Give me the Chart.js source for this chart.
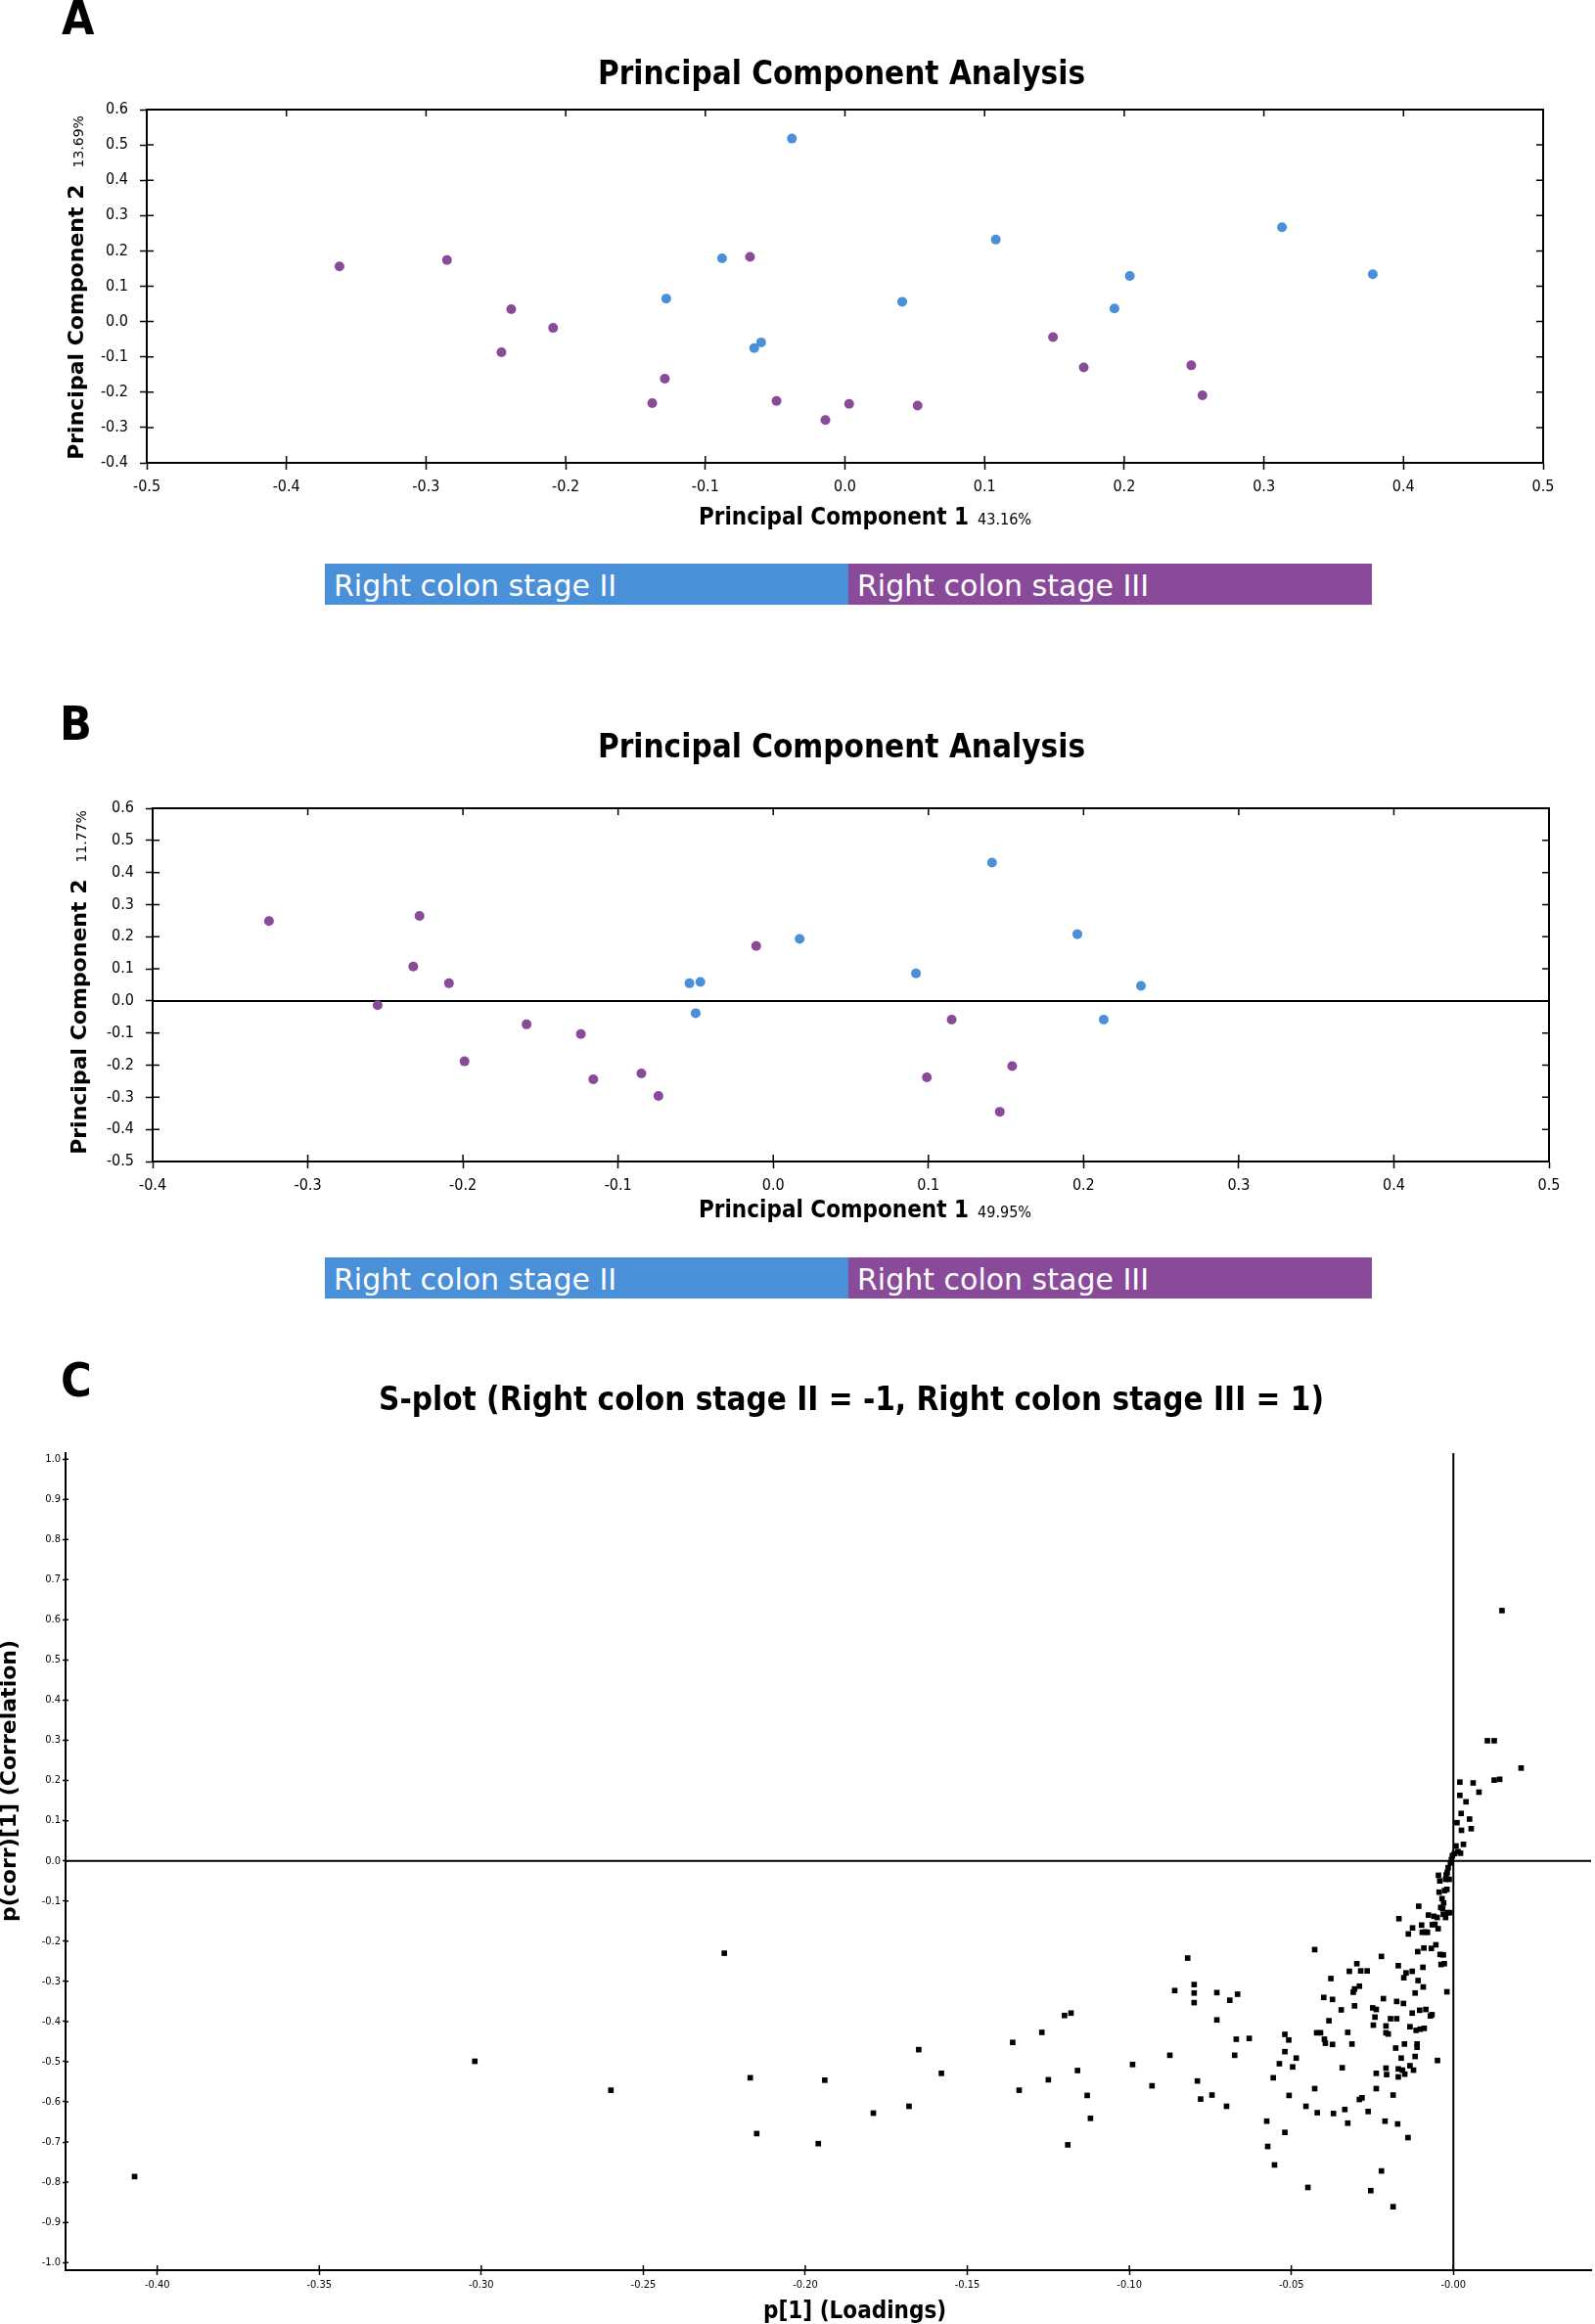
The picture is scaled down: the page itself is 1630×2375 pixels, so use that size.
<!DOCTYPE html>
<html>
<head>
<meta charset="utf-8">
<script src="https://cdn.jsdelivr.net/npm/chart.js@4.4.1/dist/chart.umd.min.js"></script>
<style>
  html, body { margin: 0; padding: 0; background: #fff; }
  #page { position: relative; width: 1630px; height: 2375px; overflow: hidden; background: #fff; }
  canvas { position: absolute; left: 0; }
  .txt { position: absolute; white-space: nowrap; color: #000; line-height: 1; }
  .cb { font-family: "DejaVu Sans Condensed", "DejaVu Sans", sans-serif; font-weight: bold; }
  .letter { font-size: 48px; }
  .title { font-size: 33px; transform: translateX(-50%); }
  .xt { font-size: 24px; line-height: 24px; }
  .xt span { font-weight: normal; font-size: 16px; line-height: 1; margin-left: 9px; }
  .yt { font-family: "DejaVu Sans", sans-serif; font-weight: bold; font-size: 22px; line-height: 22px;
        transform: translate(-50%, -50%) rotate(-90deg); }
  .yt span { font-weight: normal; font-size: 14px; line-height: 1; margin-left: 17px; }
  .bar { position: absolute; height: 42px; width: 535px; color: #fff;
         font-family: "DejaVu Sans", sans-serif; font-size: 30px; line-height: 45px;
         box-sizing: border-box; padding-left: 9px; white-space: nowrap; overflow: hidden; }
</style>
</head>
<body>
<div id="page">
  <canvas id="chartA" width="1630" height="560" style="top:0px"></canvas>
  <canvas id="chartB" width="1630" height="560" style="top:700px"></canvas>
  <canvas id="chartC" width="1630" height="1005" style="top:1370px"></canvas>

  <div class="txt cb letter" style="left:63px; top:-6px">A</div>
  <div class="txt cb title" style="left:860px; top:58px">Principal Component Analysis</div>
  <div class="txt yt" style="left:78px; top:294px">Principal Component 2<span>13.69%</span></div>
  <div class="txt cb xt" style="left:714px; top:516px">Principal Component 1<span>43.16%</span></div>
  <div class="bar" style="left:332px; top:576px; background:#4a90d9">Right colon stage II</div>
  <div class="bar" style="left:867px; top:576px; background:#8a4a9a">Right colon stage III</div>

  <div class="txt cb letter" style="left:61px; top:715px">B</div>
  <div class="txt cb title" style="left:860px; top:746px">Principal Component Analysis</div>
  <div class="txt yt" style="left:81px; top:1004px">Principal Component 2<span>11.77%</span></div>
  <div class="txt cb xt" style="left:714px; top:1224px">Principal Component 1<span>49.95%</span></div>
  <div class="bar" style="left:332px; top:1285px; background:#4a90d9">Right colon stage II</div>
  <div class="bar" style="left:867px; top:1285px; background:#8a4a9a">Right colon stage III</div>

  <div class="txt cb letter" style="left:62px; top:1386px">C</div>
  <div class="txt cb title" style="left:870px; top:1413px">S-plot (Right colon stage II = -1, Right colon stage III = 1)</div>
  <div class="txt yt" style="left:9px; top:1820px">p(corr)[1] (Correlation)</div>
  <div class="txt cb xt" style="left:780px; top:2349px">p[1] (Loadings)</div>
</div>

<script>
// ---- panel A : PCA scores ----
const aStage2X = [-0.038, -0.088, -0.128, -0.060, -0.065, 0.108, 0.041, 0.204, 0.193, 0.313, 0.378];
const aStage2Y = [0.518, 0.179, 0.065, -0.059, -0.075, 0.232, 0.056, 0.129, 0.037, 0.267, 0.134];
const aStage3X = [-0.362, -0.285, -0.239, -0.209, -0.246, -0.129, -0.138, -0.068, -0.049, 0.149, 0.171, 0.248, 0.256, 0.003, -0.014, 0.052];
const aStage3Y = [0.156, 0.174, 0.035, -0.018, -0.087, -0.162, -0.231, 0.183, -0.225, -0.044, -0.130, -0.124, -0.209, -0.233, -0.279, -0.238];
const aXTicks = ['-0.5', '-0.4', '-0.3', '-0.2', '-0.1', '0.0', '0.1', '0.2', '0.3', '0.4', '0.5'];
const aYTicks = ['-0.4', '-0.3', '-0.2', '-0.1', '0.0', '0.1', '0.2', '0.3', '0.4', '0.5', '0.6'];

// ---- panel B : PCA scores ----
const bStage2X = [-0.054, -0.047, -0.050, 0.017, 0.141, 0.196, 0.092, 0.237, 0.213];
const bStage2Y = [0.055, 0.059, -0.038, 0.193, 0.431, 0.208, 0.086, 0.047, -0.058];
const bStage3X = [-0.325, -0.228, -0.232, -0.209, -0.255, -0.199, -0.159, -0.124, -0.116, -0.085, -0.074, -0.011, 0.115, 0.154, 0.099, 0.146];
const bStage3Y = [0.249, 0.265, 0.107, 0.055, -0.013, -0.188, -0.073, -0.103, -0.244, -0.226, -0.296, 0.171, -0.058, -0.203, -0.238, -0.345];
const bXTicks = ['-0.4', '-0.3', '-0.2', '-0.1', '0.0', '0.1', '0.2', '0.3', '0.4', '0.5'];
const bYTicks = ['-0.5', '-0.4', '-0.3', '-0.2', '-0.1', '0.0', '0.1', '0.2', '0.3', '0.4', '0.5', '0.6'];

// ---- panel C : S-plot ----
const sLoadings = [
  -0.407, -0.302, -0.260, -0.225, -0.217, -0.215,
  -0.196, -0.194, -0.179, -0.168, -0.165, -0.158, -0.136, -0.134, -0.127, -0.125,
  -0.120, -0.118, -0.119, -0.116, -0.113, -0.112, -0.099, -0.093, -0.0875, -0.086,
  -0.082, -0.080, -0.080, -0.080, -0.079, -0.078, -0.0745, -0.073, -0.073, -0.070,
  -0.069, -0.0675, -0.067, -0.0666, -0.063, -0.0576, -0.0573, -0.0556, -0.0552, -0.0537,
  -0.052, -0.052, -0.052, -0.0508, -0.0507, -0.0496, -0.0485, -0.0455, -0.0449, -0.0428,
  -0.0428, -0.0422, -0.042, -0.041, -0.040, -0.0398, -0.0395, -0.0384, -0.0378, -0.0373,
  -0.0373, -0.037, -0.0346, -0.0343, -0.0335, -0.0326, -0.0326, -0.0321, -0.0313, -0.0309,
  -0.0305, -0.0305, -0.0298, -0.029, -0.0286, -0.029, -0.0282, -0.0266, -0.0263, -0.0255,
  -0.0249, -0.0242, -0.0247, -0.0238, -0.0238, -0.0238, -0.0222, -0.0222, -0.0216, -0.0211,
  -0.0208, -0.0208, -0.0208, -0.0206, -0.0201, -0.0194, -0.0186, -0.0186, -0.0178, -0.0175,
  -0.0175, -0.0172, -0.017, -0.017, -0.017, -0.0168, -0.0161, -0.0157, -0.0154, -0.0153,
  -0.0151, -0.0150, -0.0146, -0.014, -0.0139, -0.0134, -0.0134, -0.0127, -0.0127, -0.0126,
  -0.0123, -0.0118, -0.0118, -0.0115, -0.0112, -0.0112, -0.011, -0.0109, -0.0107, -0.0104,
  -0.0102, -0.0098, -0.0096, -0.0094, -0.0093, -0.0091, -0.009, -0.0087, -0.0085, -0.008,
  -0.0077, -0.0071, -0.0068, -0.0066, -0.0065, -0.006, -0.0057, -0.0054, -0.005, -0.0049,
  -0.0047, -0.0046, -0.0044, -0.0042, -0.0041, -0.0039, -0.0038, -0.0035, -0.0033, -0.0031,
  -0.0031, -0.003, -0.0028, -0.0027, -0.0024, -0.0024, -0.0022, -0.002, -0.002, -0.0019,
  -0.0017, -0.0016, -0.0013, -0.0011, -0.0009, -0.0006, -0.0003, 0.0003, 0.0008, 0.0014,
  0.0022, 0.0031,
  0.015, 0.0105, 0.0126, 0.0209, 0.0126, 0.0143, 0.002, 0.0061, 0.0079, 0.002,
  0.0039, 0.0024, 0.0011, 0.005, 0.0055, 0.0025
];
const sCorrelation = [
  -0.786, -0.499, -0.571, -0.230, -0.540, -0.679,
  -0.704, -0.546, -0.628, -0.611, -0.470, -0.529, -0.452, -0.571, -0.427, -0.545,
  -0.385, -0.379, -0.707, -0.522, -0.584, -0.641, -0.507, -0.560, -0.484, -0.323,
  -0.242, -0.308, -0.329, -0.353, -0.548, -0.593, -0.583, -0.396, -0.328, -0.611,
  -0.347, -0.484, -0.444, -0.332, -0.442, -0.648, -0.711, -0.540, -0.757, -0.505,
  -0.432, -0.475, -0.676, -0.446, -0.584, -0.513, -0.491, -0.611, -0.813, -0.221,
  -0.567, -0.428, -0.627, -0.428, -0.340, -0.444, -0.454, -0.398, -0.293, -0.345,
  -0.457, -0.629, -0.371, -0.515, -0.619, -0.427, -0.653, -0.275, -0.456, -0.327,
  -0.361, -0.319, -0.256, -0.312, -0.274, -0.594, -0.590, -0.274, -0.624, -0.821,
  -0.366, -0.389, -0.409, -0.370, -0.529, -0.567, -0.238, -0.772, -0.343, -0.648,
  -0.411, -0.428, -0.516, -0.532, -0.431, -0.393, -0.583, -0.861, -0.466, -0.393,
  -0.350, -0.655, -0.261, -0.518, -0.538, -0.144, -0.491, -0.521, -0.355, -0.291,
  -0.456, -0.531, -0.279, -0.689, -0.182, -0.413, -0.510, -0.275, -0.379, -0.167,
  -0.521, -0.329, -0.487, -0.422, -0.456, -0.464, -0.226, -0.298, -0.113, -0.372,
  -0.419, -0.160, -0.178, -0.265, -0.314, -0.217, -0.417, -0.177, -0.370, -0.178,
  -0.135, -0.386, -0.218, -0.383, -0.159, -0.138, -0.158, -0.209, -0.141, -0.497,
  -0.169, -0.036, -0.078, -0.050, -0.233, -0.116, -0.258, -0.094, -0.119, -0.234,
  -0.133, -0.105, -0.256, -0.074, -0.141, -0.046, -0.035, -0.071, -0.326, -0.029,
  -0.129, -0.017, -0.046, -0.129, -0.005, 0.003, 0.013, 0.018, 0.037, 0.023,
  0.019, 0.041,
  0.623, 0.299, 0.299, 0.231, 0.201, 0.203, 0.196, 0.194, 0.171, 0.163,
  0.147, 0.118, 0.095, 0.104, 0.080, 0.076
];
const cXTicks = ['-0.40', '-0.35', '-0.30', '-0.25', '-0.20', '-0.15', '-0.10', '-0.05', '-0.00'];
const cYTicks = ['-1.0', '-0.9', '-0.8', '-0.7', '-0.6', '-0.5', '-0.4', '-0.3', '-0.2', '-0.1', '0.0',
                 '0.1', '0.2', '0.3', '0.4', '0.5', '0.6', '0.7', '0.8', '0.9', '1.0'];

const BLUE = '#4a90d9';
const PURPLE = '#8a4a9a';

Chart.defaults.font.family = '"DejaVu Sans Condensed", "DejaVu Sans", sans-serif';
Chart.defaults.color = '#000';
Chart.defaults.animation = false;

const pts = (xs, ys) => xs.map((v, i) => ({ x: v, y: ys[i] }));

// frame lines, inner tick marks and zero lines
const axisExtras = {
  id: 'axisExtras',
  beforeDatasetsDraw(chart, args, o) {
    const { ctx, chartArea: a, scales: { x, y } } = chart;
    ctx.save();
    ctx.strokeStyle = '#000';
    ctx.lineWidth = 2;
    ctx.beginPath();
    if (o.box) {
      ctx.moveTo(a.left, a.top); ctx.lineTo(a.right, a.top); ctx.lineTo(a.right, a.bottom);
    }
    if (o.zeroY) {
      const py = y.getPixelForValue(0);
      ctx.moveTo(a.left, py); ctx.lineTo(a.right, py);
    }
    if (o.zeroX) {
      const px = x.getPixelForValue(0);
      ctx.moveTo(px, a.top); ctx.lineTo(px, a.bottom);
    }
    ctx.stroke();
    ctx.lineWidth = 1.5;
    ctx.beginPath();
    const xi = o.innerX, yi = o.innerY;
    x.ticks.forEach(t => {
      const px = x.getPixelForValue(t.value);
      ctx.moveTo(px, a.bottom); ctx.lineTo(px, a.bottom - xi);
      if (o.box) { ctx.moveTo(px, a.top); ctx.lineTo(px, a.top + xi); }
    });
    y.ticks.forEach(t => {
      const py = y.getPixelForValue(t.value);
      ctx.moveTo(a.left, py); ctx.lineTo(a.left + yi, py);
      if (o.box) { ctx.moveTo(a.right, py); ctx.lineTo(a.right - yi, py); }
    });
    ctx.stroke();
    ctx.restore();
  }
};

function axis(labels, min, max, fit, fontSize, tickLen, pad) {
  const values = labels.map(Number);
  return {
    type: 'linear', min: min, max: max,
    afterBuildTicks: s => { s.ticks = values.map(v => ({ value: v })); },
    afterFit: fit,
    border: { display: true, color: '#000', width: 2 },
    grid: { display: true, drawOnChartArea: false, drawTicks: true, tickLength: tickLen,
            tickColor: '#000', tickWidth: 1.5 },
    ticks: { autoSkip: false, maxRotation: 0, padding: pad, font: { size: fontSize },
             callback: (v, i) => labels[i] }
  };
}

function scatter(id, datasets, pad, xScale, yScale, extras) {
  return new Chart(document.getElementById(id), {
    type: 'scatter',
    data: { datasets: datasets },
    options: {
      responsive: false,
      layout: { padding: pad },
      plugins: { legend: { display: false }, tooltip: { enabled: false }, axisExtras: extras },
      scales: { x: xScale, y: yScale }
    },
    plugins: [axisExtras]
  });
}

const dot = (data, color) => ({ data: data, backgroundColor: color, borderWidth: 0, pointRadius: 5 });

scatter('chartA',
  [dot(pts(aStage2X, aStage2Y), BLUE), dot(pts(aStage3X, aStage3Y), PURPLE)],
  { top: 112, right: 53, left: 0, bottom: 0 },
  axis(aXTicks, -0.5, 0.5, s => { s.height = 87; }, 16, 7, 8),
  axis(aYTicks, -0.4, 0.6, s => { s.width = 150; }, 16, 7, 12),
  { box: true, innerX: 7, innerY: 7 });

scatter('chartB',
  [dot(pts(bStage2X, bStage2Y), BLUE), dot(pts(bStage3X, bStage3Y), PURPLE)],
  { top: 126, right: 47, left: 0, bottom: 0 },
  axis(bXTicks, -0.4, 0.5, s => { s.height = 73; }, 16, 7, 8),
  axis(bYTicks, -0.5, 0.6, s => { s.width = 156; }, 16, 7, 12),
  { box: true, zeroY: true, innerX: 7, innerY: 7 });

scatter('chartC',
  [{ data: pts(sLoadings, sCorrelation), backgroundColor: '#000', borderWidth: 0,
     pointStyle: 'rect', pointRadius: 4 }],
  { top: 115, right: 0, left: 0, bottom: 0 },
  axis(cXTicks, -0.4283, 0.0425, s => { s.height = 55; }, 11, 5, 4),
  axis(cYTicks, -1.019, 1.015, s => { s.width = 67; }, 11, 3, 2),
  { box: false, zeroX: true, zeroY: true, innerX: 5, innerY: 3 });
</script>
</body>
</html>
